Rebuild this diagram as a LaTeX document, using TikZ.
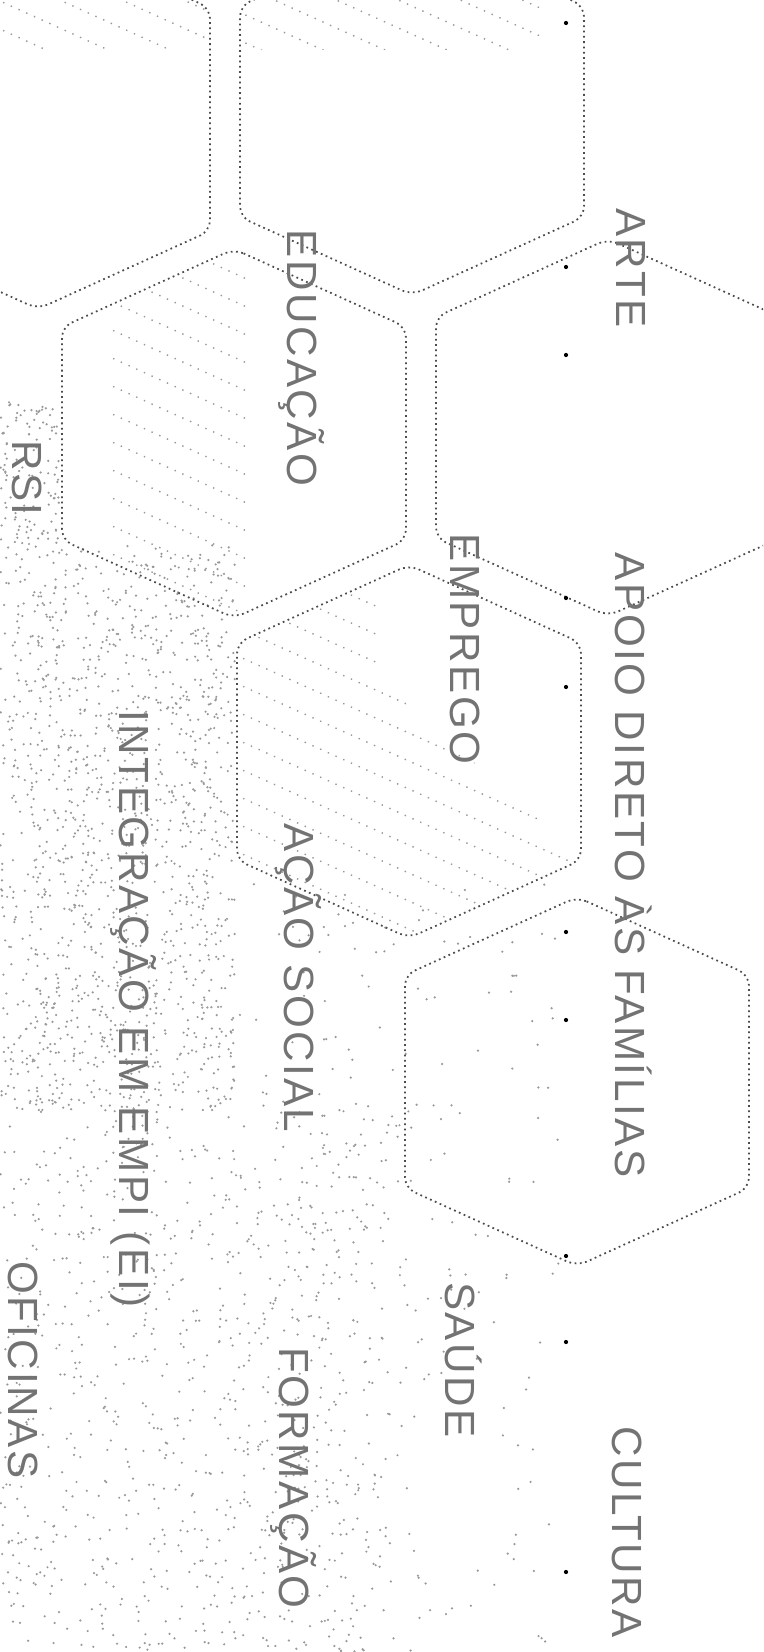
\documentclass[tikz,border=0pt]{standalone}
\usepackage{fontspec}
\newfontfamily\rotulofont[LetterSpace=6]{Liberation Sans}
\usetikzlibrary{calc}

% hexagono (em px): centro x, topo e base dos lados verticais
\newcommand{\hexpath}[3]{(#1,#2-78) -- (#1+172,#2) -- (#1+172,#3) -- (#1,#3+78) -- (#1-172,#3) -- (#1-172,#2) -- cycle}

\begin{document}
\begin{tikzpicture}[x=0.01cm,y=-0.01cm,
  hexline/.style={black!70,densely dotted,line width=0.5pt,rounded corners=3pt},
  hatch/.style={black!40,dotted,line width=0.4pt},
  ponto/.style={black!40},
  rotulo/.style={rotate=-90,inner sep=0pt,text=black!55,text height=8.6pt,text depth=0pt,
    font=\rotulofont\fontsize{12}{14}\selectfont}]
\useasboundingbox (0,0) rectangle (763,1652);
\clip (0,0) rectangle (763,1652);
% ---- pontilhado (zona inferior esquerda) ----
\pgfmathsetseed{2024}
\foreach \i in {1,...,1400} \fill[ponto] ({rnd*235},{545+rnd*565}) circle (0.35pt);
\foreach \i in {1,...,900} \fill[ponto] ({rnd*390},{1100+rnd*552}) circle (0.35pt);
\foreach \i in {1,...,260} \fill[ponto] ({230+rnd*330},{880+rnd*772}) circle (0.35pt);
\foreach \i in {1,...,120} \fill[ponto] ({rnd*60},{400+rnd*145}) circle (0.35pt);
% ---- tracejado ----
\begin{scope}
  \clip \hexpath{38}{8}{231};
  \clip (0,0) rectangle (205,50);
  \foreach \k in {0,...,9} \draw[hatch] (-20,-120+\k*28) -- (230,-120+\k*28+113);
\end{scope}
\begin{scope}
  \clip \hexpath{412}{6}{217};
  \clip (245,0) rectangle (540,50);
  \foreach \k in {0,...,12} \draw[hatch] (230,-160+\k*28) -- (560,-160+\k*28+149);
\end{scope}
\begin{scope}
  \clip \hexpath{234}{327}{540};
  \clip (108,0) rectangle (245,700);
  \foreach \k in {0,...,16} \draw[hatch] (90,180+\k*28) -- (260,180+\k*28+77);
\end{scope}
\begin{scope}
  \clip \hexpath{409}{643}{860};
  \clip (237,560) -- (380,560) -- (380,680) -- (581,856) -- (581,940) -- (237,940) -- cycle;
  \foreach \k in {0,...,18} \draw[hatch] (220,480+\k*28) -- (600,480+\k*28+171);
\end{scope}
% ---- hexagonos ----
\draw[hexline] \hexpath{38}{8}{231};
\draw[hexline] \hexpath{412}{6}{217};
\draw[hexline] \hexpath{234}{327}{540};
\draw[hexline] \hexpath{608}{317}{538};
\draw[hexline] \hexpath{409}{643}{860};
\draw[hexline] \hexpath{577}{975}{1188};
% ---- marcas escuras ----
\foreach \yy in {23,267,355,598,687,932,1020,1256,1342,1572} \fill[black] (566,\yy) circle (0.6pt);
% ---- rotulos ----
\node[rotulo] (arte) at (632,268) {ARTE};
\node[rotulo] (apoio) at (631,865) {APOIO DIRETO ÀS FAMÍLIAS};
\node[rotulo] (cultura) at (628,1532) {CULTURA};
\node[rotulo] (educacao) at (303,358) {EDUCAÇÃO};
\node[rotulo] (emprego) at (466,649) {EMPREGO};
\node[rotulo] (acaosocial) at (300,978) {AÇÃO SOCIAL};
\node[rotulo] (saude) at (461,1360) {SAÚDE};
\node[rotulo] (formacao) at (295,1478) {FORMAÇÃO};
\node[rotulo] (integracao) at (135,1009) {INTEGRAÇÃO EM EMPI (EI)};
\node[rotulo] (rsi) at (28,478) {RSI};
\node[rotulo] (oficinas) at (24,1370) {OFICINAS};
\end{tikzpicture}
\end{document}
